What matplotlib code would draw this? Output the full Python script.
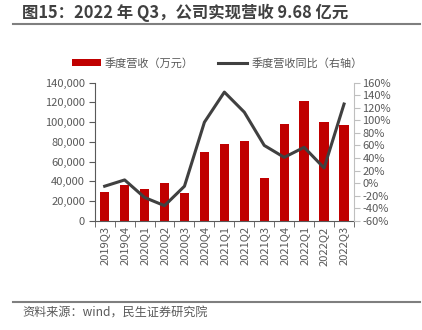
import numpy as np
import matplotlib.pyplot as plt
from matplotlib.lines import Line2D
from matplotlib.patches import Patch
from matplotlib.ticker import FuncFormatter

plt.rcParams['font.family'] = ['Noto Sans CJK SC', 'DejaVu Sans']

# --- data ---
quarters = ["2019Q3", "2019Q4", "2020Q1", "2020Q2", "2020Q3", "2020Q4", "2021Q1",
            "2021Q2", "2021Q3", "2021Q4", "2022Q1", "2022Q2", "2022Q3"]
revenue = [28800, 35900, 32100, 38500, 27800, 70000, 77800,
           80900, 43300, 97800, 121400, 99800, 96800]  # 万元
yoy = [-5, 5, -23, -36, -5, 97, 145, 113, 60, 41, 57, 24, 126]  # %

RED = "#C00000"
LINE = "#404040"
TXT = "#595959"

fig = plt.figure(figsize=(4.22, 3.30), dpi=100)
ax = fig.add_axes([0.2244, 0.3312, 0.6145, 0.4182])
ax2 = ax.twinx()

x = np.arange(len(quarters))
ax.bar(x, revenue, width=0.47, color=RED, zorder=2)
ax2.plot(x, yoy, color=LINE, linewidth=2.2, zorder=3)

ax.set_xlim(-0.5, len(quarters) - 0.5)
ax.set_ylim(0, 140000)
ax.set_yticks(np.arange(0, 140001, 20000))
ax.yaxis.set_major_formatter(FuncFormatter(lambda v, p: f"{int(v):,}"))
ax2.set_ylim(-60, 160)
ax2.set_yticks(np.arange(-60, 161, 20))
ax2.yaxis.set_major_formatter(FuncFormatter(lambda v, p: f"{int(v)}%"))

ax.set_xticks(x)
ax.set_xticklabels(quarters, rotation=90)
ax.set_xticks(np.arange(-0.5, len(quarters), 1), minor=True)
ax.tick_params(axis="x", which="major", length=0, pad=4, labelsize=8, labelcolor=TXT)
ax.tick_params(axis="x", which="minor", length=4, color=TXT, direction="out")
ax.tick_params(axis="y", length=4, color=TXT, labelsize=8, labelcolor=TXT, pad=3)
ax2.tick_params(axis="y", length=4, color="#BFBFBF", labelsize=8, labelcolor=TXT, pad=2)

for a in (ax, ax2):
    a.spines["top"].set_visible(False)
ax.spines["right"].set_visible(False)
ax2.spines["left"].set_visible(False)
ax2.spines["bottom"].set_visible(False)
ax2.spines["right"].set_color("#BFBFBF")
ax.spines["left"].set_color(TXT)
ax.spines["bottom"].set_color(TXT)

handles = [Patch(facecolor=RED, edgecolor="none"),
           Line2D([0], [0], color=LINE, linewidth=2.2)]
fig.legend(handles, ["季度营收（万元）", "季度营收同比（右轴）"],
           loc="center", bbox_to_anchor=(0.515, 1 - 63 / 330), ncol=2, frameon=False,
           fontsize=8, labelcolor=TXT, handlelength=2.6, handleheight=0.6,
           columnspacing=2.2, handletextpad=0.4)

# title and source
fig.text(22 / 422, 1 - 13 / 330, "图15：2022 年 Q3，公司实现营收 9.68 亿元",
         fontsize=11.8, fontweight="bold", color="#404040", va="center", ha="left")
fig.add_artist(Line2D([13 / 422, 420 / 422], [1 - 23.5 / 330] * 2,
                      color="#7F7F7F", linewidth=1.5))
fig.add_artist(Line2D([13 / 422, 420 / 422], [1 - 301.5 / 330] * 2,
                      color="#7F7F7F", linewidth=1.5))
fig.text(22 / 422, 1 - 313 / 330, "资料来源：wind，民生证券研究院",
         fontsize=8.7, color=TXT, va="center", ha="left")

fig.savefig("out.png", dpi=100)
